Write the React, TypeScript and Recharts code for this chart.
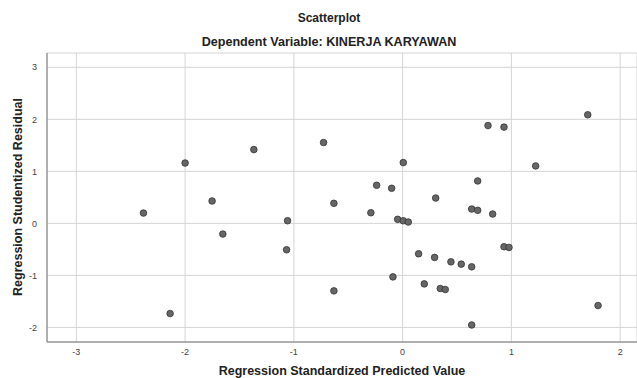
import { CartesianGrid, Scatter, ScatterChart, XAxis, YAxis } from "recharts";

// standardized predicted value (x) and studentized residual (y)
const predicted = [
  -2.0, -1.368, -0.727, -1.752, -2.383, -0.632, -1.058, -1.653, -1.067, -0.632,
  -2.138, 1.702, 0.785, 0.932, 0.006, 1.223, 0.69, -0.239, -0.101, 0.304,
  -0.292, 0.635, 0.69, 0.828, -0.046, 0.006, 0.052, 0.932, 0.978, 0.147,
  0.294, 0.444, 0.539, 0.635, -0.089, 0.199, 0.346, 0.392, 1.797, 0.635,
];
const residual = [
  1.16, 1.418, 1.553, 0.43, 0.198, 0.385, 0.05, -0.206, -0.508, -1.298,
  -1.734, 2.087, 1.88, 1.85, 1.168, 1.104, 0.815, 0.732, 0.674, 0.487,
  0.204, 0.276, 0.25, 0.179, 0.077, 0.05, 0.025, -0.45, -0.463, -0.585,
  -0.655, -0.74, -0.784, -0.836, -1.029, -1.164, -1.252, -1.272, -1.58, -1.954,
];
const xTicks = [-3, -2, -1, 0, 1, 2];
const yTicks = [-2, -1, 0, 1, 2, 3];

const points = predicted.map((x, i) => ({ x, y: residual[i] }));

const font = "'Liberation Sans', Arial, sans-serif";
const tickStyle = { fontSize: 9, fill: "#444", fontFamily: font };

export default function App() {
  return (
    <div
      style={{
        position: "absolute",
        left: 0,
        top: 0,
        width: 637,
        height: 378,
        background: "#fff",
        fontFamily: font,
        overflow: "hidden",
      }}
    >
      <div
        style={{
          position: "absolute",
          left: 229,
          width: 200,
          top: 11,
          textAlign: "center",
          fontSize: 12,
          fontWeight: "bold",
          color: "#222",
        }}
      >
        Scatterplot
      </div>
      <div
        style={{
          position: "absolute",
          left: 129,
          width: 400,
          top: 35,
          textAlign: "center",
          fontSize: 12.6,
          fontWeight: "bold",
          color: "#222",
        }}
      >
        Dependent Variable: KINERJA KARYAWAN
      </div>

      <ScatterChart
        width={637}
        height={378}
        margin={{ top: 53, right: 0, bottom: 0, left: 0 }}
      >
        <CartesianGrid stroke="#d4d4d4" />
        <XAxis
          type="number"
          dataKey="x"
          domain={[-3.27, 2.155]}
          ticks={xTicks}
          height={36}
          tickLine={false}
          tickSize={0}
          tickMargin={7}
          stroke="#777"
          tick={tickStyle}
          allowDataOverflow
        />
        <YAxis
          type="number"
          dataKey="y"
          domain={[-2.281, 3.275]}
          ticks={yTicks}
          width={47}
          tickLine={false}
          tickSize={0}
          tickMargin={10}
          stroke="#777"
          tick={tickStyle}
          allowDataOverflow
        />
        <Scatter
          data={points}
          fill="#666"
          stroke="#333"
          isAnimationActive={false}
          shape={(p: any) => (
            <circle cx={p.cx} cy={p.cy} r={3.3} fill="#666" stroke="#333" strokeWidth={0.8} />
          )}
        />
      </ScatterChart>

      <div
        style={{
          position: "absolute",
          left: 142,
          width: 400,
          top: 364,
          textAlign: "center",
          fontSize: 12.5,
          fontWeight: "bold",
          color: "#222",
        }}
      >
        Regression Standardized Predicted Value
      </div>
      <div
        style={{
          position: "absolute",
          left: 18 - 150,
          top: 198 - 8,
          width: 300,
          textAlign: "center",
          fontSize: 12.5,
          fontWeight: "bold",
          color: "#222",
          transform: "rotate(-90deg)",
        }}
      >
        Regression Studentized Residual
      </div>
    </div>
  );
}
